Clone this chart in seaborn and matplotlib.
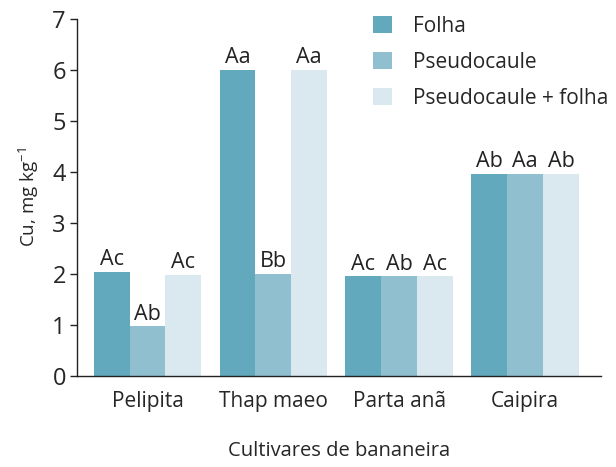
import matplotlib
matplotlib.use("Agg")
import matplotlib.pyplot as plt
import seaborn as sns
import pandas as pd

cultivares = ["Pelipita", "Thap maeo", "Parta anã", "Caipira"]
partes = ["Folha", "Pseudocaule", "Pseudocaule + folha"]
folha = [2.04, 6.0, 1.96, 3.96]
pseudocaule = [0.98, 2.0, 1.96, 3.96]
pseudo_folha = [1.98, 6.0, 1.96, 3.96]
letras_folha = ["Ac", "Aa", "Ac", "Ab"]
letras_pseudo = ["Ab", "Bb", "Ab", "Aa"]
letras_pf = ["Ac", "Aa", "Ac", "Ab"]
yticks = [0, 1, 2, 3, 4, 5, 6, 7]

rows = []
for serie, vals, labs in zip(partes, [folha, pseudocaule, pseudo_folha],
                             [letras_folha, letras_pseudo, letras_pf]):
    for c, v, l in zip(cultivares, vals, labs):
        rows.append({"Cultivar": c, "Parte": serie, "Cu": v, "Letra": l})
df = pd.DataFrame(rows)

sns.set_style("white")
plt.rcParams["font.family"] = ["Open Sans", "DejaVu Sans"]
colors = ["#62a9be", "#90c0cf", "#d9e9ef"]

fig, ax = plt.subplots(figsize=(6.16, 4.67), dpi=100)
fig.subplots_adjust(left=0.125, right=0.975, top=0.96, bottom=0.195)
sns.barplot(data=df, x="Cultivar", y="Cu", hue="Parte", order=cultivares,
            hue_order=partes, palette=colors, width=0.855, gap=0,
            saturation=1, ax=ax, errorbar=None, linewidth=0, edgecolor="none")

for container, serie in zip(ax.containers, partes):
    labs = df[df["Parte"] == serie]["Letra"].tolist()
    ax.bar_label(container, labels=labs, padding=1, fontsize=15.5, color="#222222")

ax.set_ylim(0, 7)
ax.set_xlim(-0.56, 0.6 + 3)
ax.set_yticks(yticks)
ax.tick_params(axis="y", labelsize=17, length=5, width=1, color="#222222",
               direction="out", left=True, pad=3)
ax.tick_params(axis="x", labelsize=15, length=0, pad=11)
ax.set_ylabel("Cu, mg kg$^{\\mathregular{-1}}$", fontsize=13.5, labelpad=8)
ax.set_xlabel("Cultivares de bananeira", fontsize=14.5, labelpad=21)
for s in ["top", "right"]:
    ax.spines[s].set_visible(False)
for s in ["left", "bottom"]:
    ax.spines[s].set_color("#222222")
    ax.spines[s].set_linewidth(1)

leg = ax.legend(title=None, frameon=False, loc="upper right", fontsize=15,
                bbox_to_anchor=(1.05, 1.06), handlelength=0.9, handleheight=0.9,
                labelspacing=0.72, handletextpad=1.0)

fig.savefig("out.png", dpi=100)
